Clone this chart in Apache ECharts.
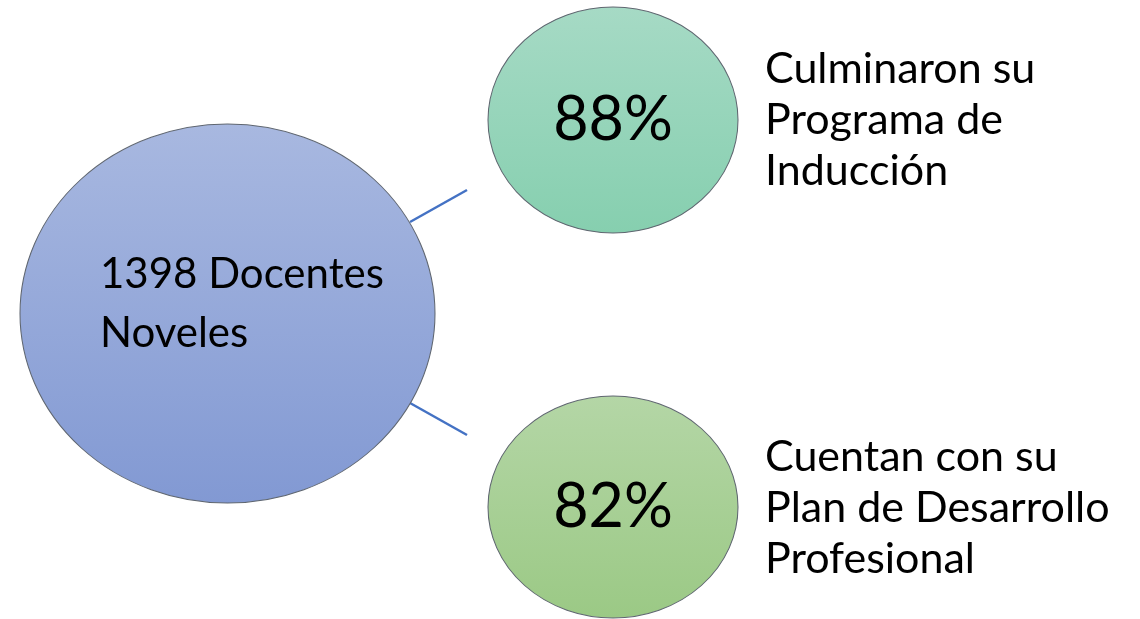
<!DOCTYPE html>
<html>
<head>
<meta charset="utf-8">
<script src="https://cdn.jsdelivr.net/npm/echarts@6/dist/echarts.min.js"></script>
<style>
html,body{margin:0;padding:0;background:#fff;}
#chart{width:1140px;height:619px;}
</style>
</head>
<body>
<div id="chart"></div>
<script>
// ---- data ----
const totalDocentes = 1398;
const centerLabel = totalDocentes + ' Docentes\nNoveles';
const percentValues = [88, 82];
const descriptions = [
  'Culminaron su\nPrograma de\nInducción',
  'Cuentan con su\nPlan de Desarrollo\nProfesional'
];

// ---- layout (pixel space of a hidden 1140x619 cartesian) ----
const bigCircle = { c: [227.5, 313.5], size: [415, 379] };
const smallCircles = [
  { c: [613, 120], size: [250, 226] },
  { c: [613, 507], size: [250, 222] }
];
const connectors = [
  [[410, 222], [467, 190]],
  [[410, 403], [467, 435]]
];
const descPos = [[765, 120], [765, 508]];
const FONT = 'Lato';

const grad = (a, b) => new echarts.graphic.LinearGradient(0, 0, 0, 1, [
  { offset: 0, color: a }, { offset: 1, color: b }
]);
const smallColors = [['#A6DAC5', '#86CFAF'], ['#B4D6A6', '#9BC985']];

const chart = echarts.init(document.getElementById('chart'));
chart.setOption({
  animation: false,
  backgroundColor: '#ffffff',
  grid: { left: 0, right: 0, top: 0, bottom: 0 },
  xAxis: { type: 'value', min: 0, max: 1140, show: false },
  yAxis: { type: 'value', min: 0, max: 619, inverse: true, show: false },
  series: [
    // connector lines
    ...connectors.map(seg => ({
      type: 'line',
      data: seg,
      symbol: 'none',
      lineStyle: { color: '#4472C4', width: 2.5 },
      z: 1
    })),
    // big circle
    {
      type: 'scatter',
      symbol: 'circle',
      symbolSize: bigCircle.size,
      data: [bigCircle.c],
      itemStyle: {
        color: grad('#A8B8E0', '#8299D3'),
        borderColor: '#5f6670',
        borderWidth: 1,
        opacity: 1
      },
      label: { show: false },
      z: 2
    },
    // center label
    {
      type: 'scatter',
      symbolSize: 0,
      itemStyle: { opacity: 1 },
      data: [[100, 304]],
      label: {
        show: true,
        position: 'inside',
        align: 'left',
        verticalAlign: 'middle',
        formatter: () => centerLabel,
        fontFamily: FONT,
        fontSize: 42,
        lineHeight: 59,
        color: '#000'
      },
      z: 5
    },
    // small circles with percentages
    {
      type: 'scatter',
      symbol: 'circle',
      data: percentValues.map((v, i) => ({
        value: smallCircles[i].c,
        symbolSize: smallCircles[i].size,
        itemStyle: {
          color: grad(smallColors[i][0], smallColors[i][1]),
          borderColor: '#5f6670',
          borderWidth: 1,
          opacity: 1
        }
      })),
      label: {
        show: true,
        position: 'inside',
        formatter: p => percentValues[p.dataIndex] + '%',
        fontFamily: FONT,
        fontSize: 61,
        color: '#000'
      },
      z: 2
    },
    // descriptions
    {
      type: 'scatter',
      symbolSize: 0,
      itemStyle: { opacity: 1 },
      data: descPos,
      label: {
        show: true,
        position: 'inside',
        align: 'left',
        verticalAlign: 'middle',
        formatter: p => descriptions[p.dataIndex],
        fontFamily: FONT,
        fontSize: 43,
        lineHeight: 51,
        color: '#000'
      },
      z: 5
    }
  ]
});
</script>
</body>
</html>
